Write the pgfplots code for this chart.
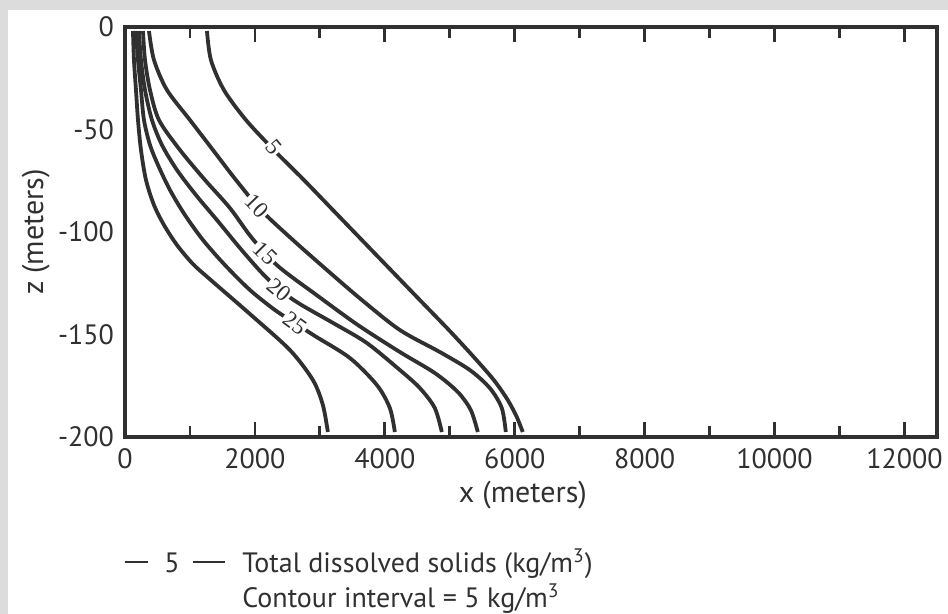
\documentclass[border=0pt]{standalone}
\usepackage{pgfplots}
\pgfplotsset{compat=1.18}
\usepackage{fontspec}
\setmainfont{PT Sans}
\newfontfamily\labfont{Liberation Serif}
\definecolor{ink}{HTML}{303030}
\definecolor{framegray}{HTML}{DCDCDC}

\begin{document}
\begin{tikzpicture}[x=1pt,y=1pt]
% background: 1 px of the reference = 0.5pt, origin at the lower left corner of the axis
\fill[framegray] (-62.5,-88.5) rectangle (411.5,218.5);
\fill[white] (-58.5,-88.5) rectangle (411.5,213.5);

\begin{axis}[
  at={(0,0)}, anchor=south west,
  scale only axis, width=406pt, height=205pt,
  xmin=0, xmax=12500, ymin=-200, ymax=0,
  axis line style={ink, line width=1.6pt},
  tick style={ink, line width=1.4pt},
  tick align=inside,
  scaled x ticks=false,
  xtick={0,2000,4000,6000,8000,10000,12000},
  xticklabels={0,2000,4000,6000,8000,10000,12000},
  minor xtick={1000,3000,5000,7000,9000,11000},
  ytick={-200,-150,-100,-50,0},
  yticklabels={-200,-150,-100,-50,0},
  ytick style={draw=none},
  minor ytick={-200,-175,-150,-125,-100,-75,-50,-25,0},
  major tick length=7.5pt, minor tick length=5.5pt,
  tick label style={font=\fontsize{14}{16}\selectfont, text=ink},
  yticklabel style={xshift=-2pt},
  xticklabel style={yshift=-2.5pt},
  /pgf/number format/assume math mode=true,
  xlabel={x (meters)}, ylabel={z (meters)},
  label style={font=\fontsize{15}{18}\selectfont, text=ink},
  xlabel style={at={(axis description cs:0.49,-0.1415)}, anchor=center},
  ylabel style={at={(axis description cs:-0.11,0.5)}, anchor=center},
  clip=false,
]
% contour 5
\addplot[ink, line width=1.9pt, smooth] coordinates {
(1262,-1.95) (1323,-16.1) (1523,-30.73) (1862,-45.37) (2292,-60.0) (2754,-74.63)
(3200,-89.27) (3646,-103.9) (4092,-118.54) (4538,-133.17) (4985,-147.8) (5369,-160.98)
(5677,-172.2) (5892,-181.95) (6031,-190.24) (6123,-197.56)};
% contour 10
\addplot[ink, line width=1.9pt, smooth] coordinates {
(369,-1.95) (446,-16.1) (646,-30.73) (1000,-45.37) (1354,-60) (1708,-74.63)
(2092,-89.27) (2585,-103.9) (3108,-118.54) (3646,-133.17) (4231,-147.8) (4846,-158.54)
(5308,-167.32) (5615,-176.1) (5800,-185.85) (5862,-197.56)};
% contour 15
\addplot[ink, line width=1.9pt, smooth] coordinates {
(277,-1.95) (308,-16.1) (385,-30.73) (523,-45.37) (846,-60) (1231,-74.63)
(1615,-88.29) (1954,-102.93) (2354,-116.59) (2969,-131.22) (3585,-145.37) (4231,-158.54)
(4769,-168.78) (5123,-178.05) (5323,-186.83) (5431,-197.56)};
% contour 20
\addplot[ink, line width=1.9pt, smooth] coordinates {
(215,-1.95) (246,-16.1) (308,-30.73) (415,-45.37) (569,-57.56) (800,-69.76)
(1092,-81.95) (1415,-94.15) (1769,-107.8) (2108,-120.0) (2385,-128.29) (2692,-135.12)
(3231,-144.88) (3723,-154.15) (4231,-167.32) (4538,-176.1) (4769,-185.85) (4877,-197.56)};
% contour 25
\addplot[ink, line width=1.9pt, smooth] coordinates {
(169,-1.95) (200,-16.1) (246,-30.73) (292,-45.37) (385,-57.56) (508,-67.32)
(692,-79.51) (923,-91.71) (1200,-103.9) (1538,-116.1) (1923,-128.29) (2308,-138.05)
(2615,-144.39) (2923,-150.73) (3462,-161.46) (3877,-174.63) (4077,-185.85) (4154,-197.56)};
% contour 30 (unlabelled)
\addplot[ink, line width=1.9pt, smooth] coordinates {
(123,-1.95) (138,-16.1) (169,-30.73) (200,-45.37) (246,-60) (323,-74.63)
(446,-86.83) (600,-96.59) (800,-106.34) (1046,-115.61) (1338,-123.9) (1923,-140)
(2538,-157.56) (2892,-172.2) (3046,-184.39) (3123,-197.56)};

\tikzset{clab/.style={fill=white, inner sep=0.7pt, text=ink,
  font=\labfont\fontsize{11.5}{12}\selectfont}}
\node[clab, rotate=-50] at (axis cs:2292,-58.5) {5};
\node[clab, rotate=-46] at (axis cs:2035,-87.3) {10};
\node[clab, rotate=-45] at (axis cs:2160,-110.2) {15};
\node[clab, rotate=-40] at (axis cs:2370,-128.3) {20};
\node[clab, rotate=-36] at (axis cs:2615,-144.4) {25};
\end{axis}

% key below the axis
\draw[ink, line width=1.2pt] (0,-62.5) -- (11.5,-62.5);
\node[text=ink, font=\fontsize{14}{16}\selectfont, anchor=base] at (23.5,-68) {5};
\draw[ink, line width=1.2pt] (34,-62.5) -- (50,-62.5);
\node[text=ink, font=\fontsize{14}{16}\selectfont, anchor=base west, inner sep=0pt]
  at (58.5,-68) {Total dissolved solids (kg/m\textsuperscript{3})};
\node[text=ink, font=\fontsize{14}{16}\selectfont, anchor=base west, inner sep=0pt]
  at (58.5,-85.5) {Contour interval = 5 kg/m\textsuperscript{3}};

\pgfresetboundingbox
\path[use as bounding box] (-62.5,-88.5) rectangle (411.5,218.5);
\end{tikzpicture}
\end{document}
